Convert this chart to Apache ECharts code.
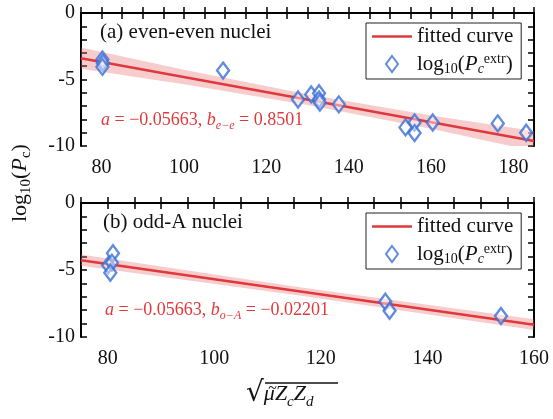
<!DOCTYPE html>
<html>
<head>
<meta charset="utf-8">
<script src="https://cdn.jsdelivr.net/npm/echarts@6/dist/echarts.min.js"></script>
<style>
  html, body { margin: 0; padding: 0; background: #fff; }
  #main { width: 553px; height: 419px; }
</style>
</head>
<body>
<div id="main"></div>
<script>
// (a) even-even
var evenX = [80.2, 80.3, 80.2, 109.5, 127.7, 130.9, 132.8, 132.8, 133.0, 137.6, 153.8, 156.0, 156.0, 160.4, 176.2, 183.1];
var evenY = [-3.5, -3.75, -4.05, -4.33, -6.5, -6.12, -6.04, -6.5, -6.74, -6.87, -8.6, -8.23, -9.03, -8.23, -8.3, -9.0];
var fitEvenX = [75, 185];
var fitEvenY = [-3.40, -9.63];
var bandEvenX = [75, 100, 130, 160, 185];
var bandEvenHi = [-2.6, -4.26, -6.11, -7.71, -8.88];
var bandEvenLo = [-4.2, -5.36, -6.91, -8.71, -10.38];

// (b) odd-A
var oddX = [81.0, 80.1, 80.8, 80.5, 132.1, 132.9, 153.8];
var oddY = [-3.75, -4.65, -4.45, -5.2, -7.37, -8.04, -8.43];
var fitOddX = [75, 160];
var fitOddY = [-4.27, -9.08];
var bandOddX = [75, 117, 160];
var bandOddHi = [-3.85, -6.35, -8.68];
var bandOddLo = [-4.69, -6.95, -9.48];

var xLabelsTop = [80, 100, 120, 140, 160, 180];
var xLabelsBot = [80, 100, 120, 140, 160];
var yLabels = [0, -5, -10];

var FONT = 'Liberation Serif';
var RED = '#e0393c';
var BLUE = '#3a6fd6';

function zip(a, b){
	return a.map(function(v, i){ return [v, b[i]]; });
}

function bandSeries(xs, hi, lo, xi, yi){
	return {
		type: 'custom',
		xAxisIndex: xi, yAxisIndex: yi,
		clip: true, silent: true, z: 1,
		data: xs.map(function(x, i){ return [x, hi[i], lo[i]]; }),
		renderItem: function(params, api){
			if (params.dataIndex !== 0) return null;
			var pts = [], i;
			for (i = 0; i < xs.length; i++) pts.push(api.coord([xs[i], hi[i]]));
			for (i = xs.length - 1; i >= 0; i--) pts.push(api.coord([xs[i], lo[i]]));
			return {
				type: 'polygon',
				shape: { points: pts },
				style: { fill: 'rgba(232,110,110,0.35)', stroke: null }
			};
		}
	};
}

function xAxisPair(grid, max, labels){
	var base = {
		gridIndex: grid, type: 'value', min: 75, max: max, interval: 5,
		splitLine: { show: false },
		axisLine: { show: true, lineStyle: { color: '#000', width: 2 } },
		axisTick: { show: true, inside: true, length: 6, lineStyle: { color: '#000', width: 1.5 } }
	};
	var bottom = Object.assign({}, base, {
		position: 'bottom',
		axisLabel: {
			show: true, margin: 12, fontFamily: FONT, fontSize: 20, color: '#111',
			showMinLabel: true, showMaxLabel: true,
			formatter: function(v){ return labels.indexOf(v) >= 0 ? String(v) : ''; }
		}
	});
	var top = Object.assign({}, base, { position: 'top', axisLabel: { show: false } });
	return [bottom, top];
}

function yAxisPair(grid){
	var base = {
		gridIndex: grid, type: 'value', min: -10, max: 0, interval: 1,
		splitLine: { show: false },
		axisLine: { show: true, lineStyle: { color: '#000', width: 2 } },
		axisTick: { show: true, inside: true, length: 6, lineStyle: { color: '#000', width: 1.5 } }
	};
	var left = Object.assign({}, base, {
		position: 'left',
		axisLabel: {
			show: true, margin: 6, fontFamily: FONT, fontSize: 20, color: '#111',
			formatter: function(v){ return yLabels.indexOf(v) >= 0 ? String(v) : ''; }
		}
	});
	var right = Object.assign({}, base, { position: 'right', axisLabel: { show: false } });
	return [left, right];
}

var legendRich = {
	n: { fontFamily: FONT, fontSize: 21, color: '#111', lineHeight: 24 },
	i: { fontFamily: FONT, fontSize: 21, fontStyle: 'italic', color: '#111', lineHeight: 24 },
	sb: { fontFamily: FONT, fontSize: 14, color: '#111', lineHeight: 24, verticalAlign: 'bottom', padding: [8, 0, 0, 0] },
	si: { fontFamily: FONT, fontSize: 14, fontStyle: 'italic', color: '#111', lineHeight: 24, verticalAlign: 'bottom', padding: [8, 0, 0, 0] },
	sp: { fontFamily: FONT, fontSize: 14, color: '#111', lineHeight: 24, verticalAlign: 'top', padding: [0, 0, 8, 0] }
};

function legendBox(top){
	return {
		orient: 'vertical', left: 366, top: top,
		itemWidth: 40, itemHeight: 16, itemGap: 5,
		padding: [3, 8, 3, 6],
		symbolKeepAspect: true,
		backgroundColor: '#fff', borderColor: '#222', borderWidth: 1, borderRadius: 0,
		data: [
			{ name: 'fitted curve', icon: 'path://M0,0 L40,0 L40,2.6 L0,2.6 Z' },
			{ name: 'log', icon: 'path://M6,0 L12,8 L6,16 L0,8 Z' }
		],
		formatter: function(name){
			if (name === 'fitted curve') return '{n|fitted curve}';
			return '{n|log}{sb|10}{n|(}{i|P}{si|c}{sp|extr}{n|)}';
		},
		textStyle: { rich: legendRich }
	};
}

var chart = echarts.init(document.getElementById('main'));
var xa = xAxisPair(0, 185, xLabelsTop).concat(xAxisPair(1, 160, xLabelsBot));
var ya = yAxisPair(0).concat(yAxisPair(1));

var annRich = {
	t: { fontFamily: FONT, fontSize: 18, fontStyle: 'italic', fill: RED, lineHeight: 24 },
	u: { fontFamily: FONT, fontSize: 18, fill: RED, lineHeight: 24 },
	s: { fontFamily: FONT, fontSize: 12, fontStyle: 'italic', fill: RED, lineHeight: 24, verticalAlign: 'bottom', padding: [8, 0, 0, 0] }
};

var diamondStyle = { color: 'rgba(255,255,255,0.55)', borderColor: BLUE, borderWidth: 2.4 };

chart.setOption({
	animation: false,
	grid: [
		{ left: 81, right: 19, top: 13, height: 133 },
		{ left: 81, right: 19, top: 203, height: 134 }
	],
	xAxis: xa,
	yAxis: ya,
	legend: [legendBox(23), legendBox(213)],
	series: [
		bandSeries(bandEvenX, bandEvenHi, bandEvenLo, 0, 0),
		{
			name: 'fitted curve', type: 'line', xAxisIndex: 0, yAxisIndex: 0, z: 2,
			symbol: 'none', data: zip(fitEvenX, fitEvenY),
			itemStyle: { color: RED }, lineStyle: { color: RED, width: 2.5 }
		},
		{
			name: 'log', type: 'scatter', xAxisIndex: 0, yAxisIndex: 0, z: 3,
			symbol: 'diamond', symbolSize: [12, 16], data: zip(evenX, evenY),
			itemStyle: diamondStyle
		},
		bandSeries(bandOddX, bandOddHi, bandOddLo, 2, 2),
		{
			name: 'fitted curve', type: 'line', xAxisIndex: 2, yAxisIndex: 2, z: 2,
			symbol: 'none', data: zip(fitOddX, fitOddY),
			itemStyle: { color: RED }, lineStyle: { color: RED, width: 2.5 }
		},
		{
			name: 'log', type: 'scatter', xAxisIndex: 2, yAxisIndex: 2, z: 3,
			symbol: 'diamond', symbolSize: [12, 16], data: zip(oddX, oddY),
			itemStyle: diamondStyle
		}
	],
	graphic: [
		// panel titles
		{ type: 'text', left: 100, top: 22, style: { text: '(a) even-even nuclei', font: '21px "Liberation Serif"', fill: '#111' } },
		{ type: 'text', left: 103, top: 212, style: { text: '(b) odd-A nuclei', font: '21px "Liberation Serif"', fill: '#111' } },
		// fit parameters
		{ type: 'text', left: 101, top: 111, style: {
			text: '{t|a}{u| = −0.05663, }{t|b}{s|e−e}{u| = 0.8501}', rich: annRich } },
		{ type: 'text', left: 105, top: 301, style: {
			text: '{t|a}{u| = −0.05663, }{t|b}{s|o−A}{u| = −0.02201}', rich: annRich } },
		// y axis title
		{ type: 'text', x: 6, y: 222, rotation: Math.PI / 2, style: {
			text: '{n|log}{s|10}{n|(}{i|P}{s|c}{n|)}',
			rich: {
				n: { fontFamily: FONT, fontSize: 22, fill: '#111', lineHeight: 28 },
				i: { fontFamily: FONT, fontSize: 22, fontStyle: 'italic', fill: '#111', lineHeight: 28 },
				s: { fontFamily: FONT, fontSize: 15, fill: '#111', lineHeight: 28, verticalAlign: 'bottom', padding: [9, 0, 0, 0] }
			} } },
		// x axis title
		{ type: 'text', left: 246, top: 380, style: {
			text: '{r|√}{m|μ}{i|Z}{s|c}{i|Z}{s|d}',
			rich: {
				r: { fontFamily: 'DejaVu Serif', fontSize: 28, fill: '#111', lineHeight: 32 },
				m: { fontFamily: FONT, fontSize: 22, fontStyle: 'italic', fill: '#111', lineHeight: 32 },
				i: { fontFamily: FONT, fontSize: 22, fontStyle: 'italic', fill: '#111', lineHeight: 32 },
				s: { fontFamily: FONT, fontSize: 15, fontStyle: 'italic', fill: '#111', lineHeight: 32, verticalAlign: 'bottom', padding: [10, 0, 0, 0] }
			} } },
		// tilde over mu
		{ type: 'text', left: 268, top: 381, style: { text: '~', font: 'italic 16px "Liberation Serif"', fill: '#111' } },
		{ type: 'line', shape: { x1: 265, y1: 383, x2: 338, y2: 383 }, style: { stroke: '#111', lineWidth: 1.5 } }
	]
});
</script>
</body>
</html>
